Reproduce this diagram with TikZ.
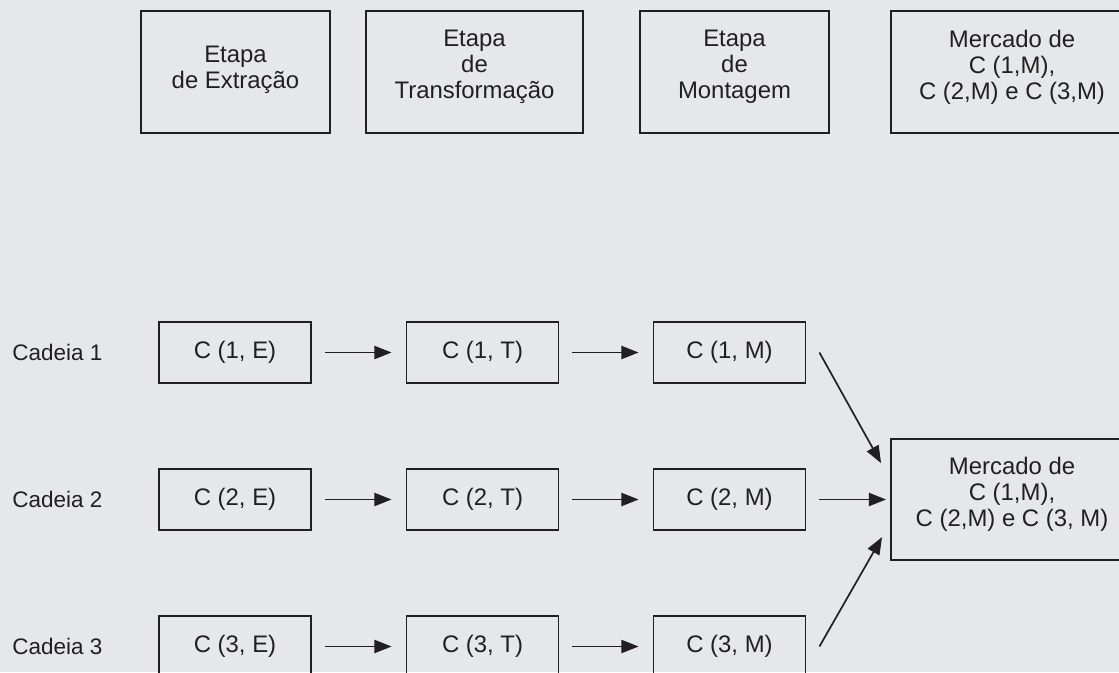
\documentclass[tikz,border=0pt]{standalone}
\usepackage{fontspec}
\setmainfont{Liberation Sans}
\usetikzlibrary{arrows.meta,positioning}
\definecolor{Paper}{HTML}{E6E7E9}
\definecolor{Ink}{HTML}{231F20}
\tikzset{stage/.style={rectangle,draw=Ink,line width=1.3pt,minimum height=3.05cm,align=center,text=Ink,inner sep=0pt,font=\fontsize{17}{18.5}\selectfont},chainbox/.style={rectangle,draw=Ink,line width=1.3pt,minimum width=3.8cm,minimum height=1.525cm,align=center,text=Ink,inner sep=0pt,font=\fontsize{17}{18.5}\selectfont},marketbox/.style={stage,minimum width=6.05cm,minimum height=3.025cm},rowlabel/.style={anchor=west,text=Ink,inner sep=0pt},flow/.style={draw=Ink,line width=1.2pt,-{Triangle[length=4.3mm,width=3.3mm]},shorten <=3.25mm,shorten >=3.5mm},feed/.style={draw=Ink,line width=1.2pt,-{Triangle[length=4.3mm,width=3.3mm]}}}
\begin{document}
\begin{tikzpicture}[x=0.025cm,y=-0.025cm,font=\fontsize{16}{18.5}\selectfont]
\useasboundingbox (0,0) rectangle (1119,672);
\clip (0,0) rectangle (1119,672);
\fill[Paper] (0,0) rectangle (1119,672);
% etapas
\node[stage,minimum width=4.725cm,text depth=0.22cm] (extr) at (235.5,72) {Etapa\\de Extração};
\node[stage,minimum width=5.425cm,text depth=0.38cm] (transf) at (474.5,72) {Etapa\\de\\Transformação};
\node[stage,minimum width=4.725cm,text depth=0.38cm] (mont) at (734.5,72) {Etapa\\de\\Montagem};
\node[stage,minimum width=6.05cm,text depth=0.38cm] (merc) at (1012,72) {Mercado de\\C (1,M),\\C (2,M) e C (3,M)};
% cadeias
\node[rowlabel] (cad1) at (12,352.5) {Cadeia 1};\node[rowlabel] (cad2) at (12,499.5) {Cadeia 2};\node[rowlabel] (cad3) at (12,646.5) {Cadeia 3};
\node[chainbox] (e1) at (235,352.5) {C (1, E)};\node[chainbox] (t1) at (482.5,352.5) {C (1, T)};\node[chainbox] (m1) at (729.5,352.5) {C (1, M)};
\node[chainbox] (e2) at (235,499.5) {C (2, E)};\node[chainbox] (t2) at (482.5,499.5) {C (2, T)};\node[chainbox] (m2) at (729.5,499.5) {C (2, M)};
\node[chainbox] (e3) at (235,646.5) {C (3, E)};\node[chainbox] (t3) at (482.5,646.5) {C (3, T)};\node[chainbox] (m3) at (729.5,646.5) {C (3, M)};
\node[marketbox,text depth=0.38cm] (mk) at (1012,499.5) {Mercado de\\C (1,M),\\C (2,M) e C (3, M)};
\draw[flow] (e1)--(t1);\draw[flow] (t1)--(m1);
\draw[flow] (e2)--(t2);\draw[flow] (t2)--(m2);
\draw[flow] (e3)--(t3);\draw[flow] (t3)--(m3);
\draw[flow,shorten >=1mm] (m2)--(mk);
\draw[feed] ([xshift=3.25mm]m1.east)--([xshift=-2.25mm,yshift=9.1mm]mk.west);
\draw[feed] ([xshift=3.25mm]m3.east)--([xshift=-2mm,yshift=-9.4mm]mk.west);
\end{tikzpicture}
\end{document}
